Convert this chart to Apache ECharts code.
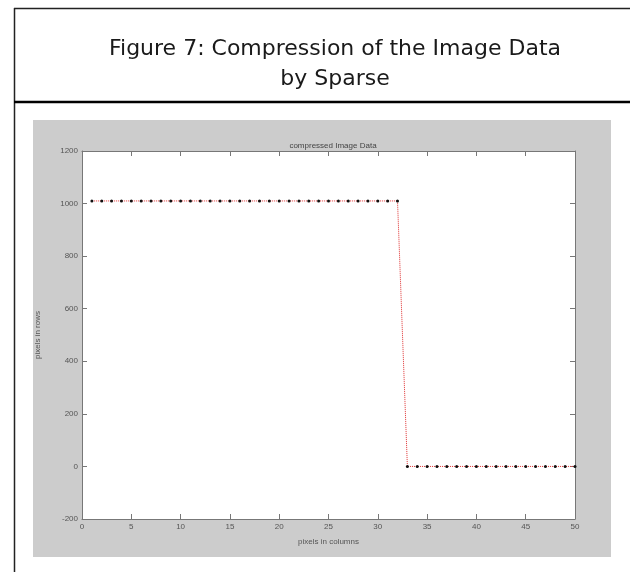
<!DOCTYPE html>
<html>
<head>
<meta charset="utf-8">
<script src="https://cdn.jsdelivr.net/npm/echarts@6/dist/echarts.min.js"></script>
<style>
	html, body { margin: 0; padding: 0; background: #fff; }
	#chart { width: 630px; height: 572px; }
</style>
</head>
<body>
<div id="chart"></div>
<script>
// pixel column index
var columns = [1, 2, 3, 4, 5, 6, 7, 8, 9, 10, 11, 12, 13, 14, 15, 16, 17, 18, 19, 20, 21, 22, 23, 24, 25,
	26, 27, 28, 29, 30, 31, 32, 33, 34, 35, 36, 37, 38, 39, 40, 41, 42, 43, 44, 45, 46, 47, 48, 49, 50];
// pixels in rows
var rows = [1010, 1010, 1010, 1010, 1010, 1010, 1010, 1010, 1010, 1010, 1010, 1010, 1010, 1010, 1010, 1010,
	1010, 1010, 1010, 1010, 1010, 1010, 1010, 1010, 1010, 1010, 1010, 1010, 1010, 1010, 1010, 1010,
	0, 0, 0, 0, 0, 0, 0, 0, 0, 0, 0, 0, 0, 0, 0, 0, 0, 0];

var figureTitle = 'Figure 7: Compression of the Image Data\nby Sparse';
var plotTitle = 'compressed Image Data';
var xName = 'pixels in columns';
var yName = 'pixels in rows';

var myChart = echarts.init(document.getElementById('chart'));

var points = [];
for (var i = 0; i < columns.length; i++) {
	points.push([columns[i], rows[i]]);
}

var tickFont = {
	fontFamily: 'Liberation Sans Narrow, Liberation Sans, sans-serif',
	fontSize: 8,
	color: '#555'
};
var axisLineStyle = { color: '#777', width: 1 };

function plainNumber(v) {
	return String(v);
}

function xAxisOf(pos, labels) {
	return {
		type: 'value',
		position: pos,
		min: 0,
		max: 50,
		interval: 5,
		axisLine: { show: true, onZero: false, lineStyle: axisLineStyle },
		axisTick: { show: true, inside: true, length: 5, lineStyle: axisLineStyle },
		axisLabel: Object.assign({ show: labels, margin: 4, formatter: plainNumber }, tickFont),
		splitLine: { show: false }
	};
}

function yAxisOf(pos, labels) {
	return {
		type: 'value',
		position: pos,
		min: -200,
		max: 1200,
		interval: 200,
		axisLine: { show: true, onZero: false, lineStyle: axisLineStyle },
		axisTick: { show: true, inside: true, length: 5, lineStyle: axisLineStyle },
		axisLabel: Object.assign({ show: labels, margin: 4, formatter: plainNumber }, tickFont),
		splitLine: { show: false }
	};
}

var xBottom = xAxisOf('bottom', true);
xBottom.name = xName;
xBottom.nameLocation = 'middle';
xBottom.nameGap = 19;
xBottom.nameTextStyle = tickFont;

var yLeft = yAxisOf('left', true);
yLeft.name = yName;
yLeft.nameLocation = 'middle';
yLeft.nameGap = 40;
yLeft.nameTextStyle = tickFont;

var option = {
	animation: false,
	backgroundColor: '#fff',

	title: [
		{
			text: figureTitle,
			left: 330,
			top: 29,
			textAlign: 'center',
			textStyle: {
				fontFamily: 'DejaVu Sans',
				fontSize: 22,
				fontWeight: 'normal',
				lineHeight: 30,
				color: '#1a1a1a'
			}
		},
		{
			text: plotTitle,
			left: 328,
			top: 137,
			textAlign: 'center',
			textStyle: {
				fontFamily: 'Liberation Sans Narrow, Liberation Sans, sans-serif',
				fontSize: 8,
				fontWeight: 'normal',
				color: '#444'
			}
		}
	],

	graphic: [
		{ type: 'rect', z: -10, shape: { x: 33, y: 120, width: 578, height: 437 }, style: { fill: '#cccccc' } },
		{ type: 'line', shape: { x1: 14.5, y1: 8, x2: 14.5, y2: 572 }, style: { stroke: '#222', lineWidth: 1.5 } },
		{ type: 'line', shape: { x1: 14, y1: 8.5, x2: 630, y2: 8.5 }, style: { stroke: '#222', lineWidth: 1.5 } },
		{ type: 'line', shape: { x1: 14, y1: 102, x2: 630, y2: 102 }, style: { stroke: '#000', lineWidth: 2.5 } }
	],

	grid: {
		left: 82,
		top: 151,
		right: 55,
		bottom: 53,
		show: true,
		backgroundColor: '#fff',
		borderWidth: 0
	},

	xAxis: [xBottom, xAxisOf('top', false)],
	yAxis: [yLeft, yAxisOf('right', false)],

	series: [
		{
			name: 'compressed',
			type: 'line',
			xAxisIndex: 0,
			yAxisIndex: 0,
			data: points,
			symbol: 'circle',
			symbolSize: 3,
			showAllSymbol: true,
			lineStyle: { color: '#e03030', width: 1, type: 'dotted' },
			itemStyle: { color: '#111' }
		}
	]
};

myChart.setOption(option);
</script>
</body>
</html>
